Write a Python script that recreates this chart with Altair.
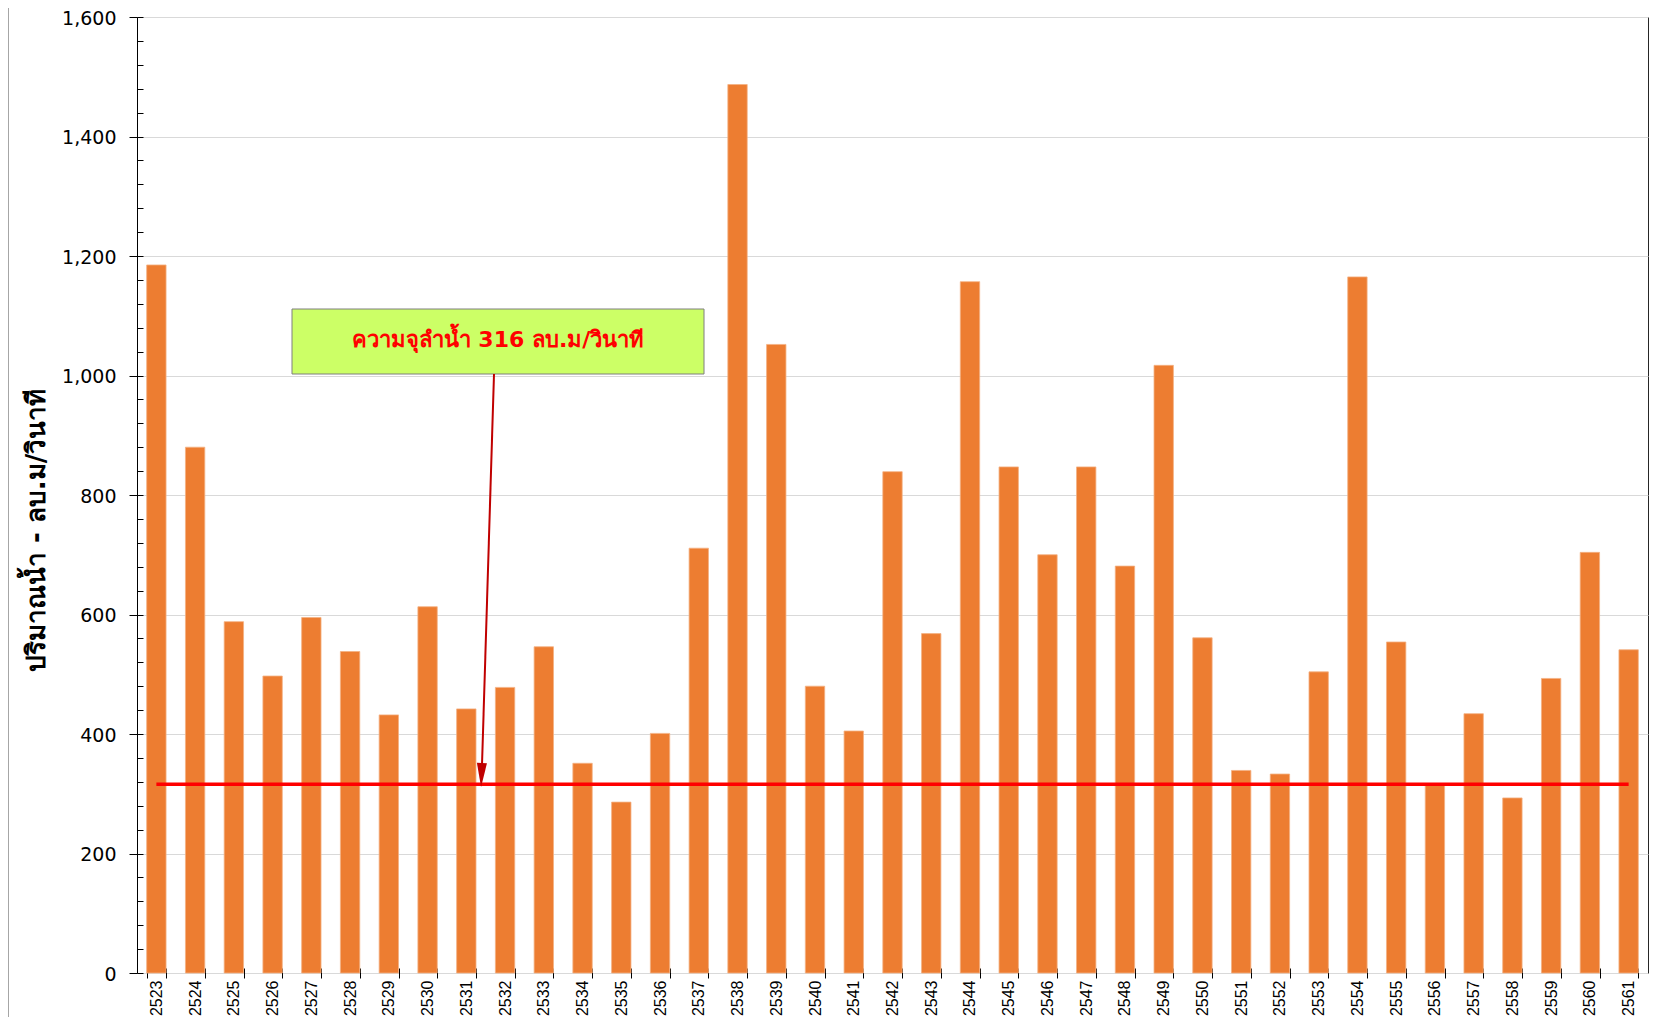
import altair as alt
import pandas as pd

years = ["2523", "2524", "2525", "2526", "2527", "2528", "2529", "2530", "2531", "2532",
         "2533", "2534", "2535", "2536", "2537", "2538", "2539", "2540", "2541", "2542",
         "2543", "2544", "2545", "2546", "2547", "2548", "2549", "2550", "2551", "2552",
         "2553", "2554", "2555", "2556", "2557", "2558", "2559", "2560", "2561"]
flows = [1185, 880, 588, 497, 595, 538, 432, 613, 442, 478,
         546, 351, 286, 401, 711, 1487, 1052, 480, 405, 839,
         568, 1157, 847, 700, 847, 681, 1017, 561, 339, 333,
         504, 1165, 554, 314, 434, 293, 493, 704, 541]
capacity = 316
y_major = [0, 200, 400, 600, 800, 1000, 1200, 1400, 1600]
y_minor = list(range(0, 1601, 40))
y_title = "ปริมาณน้ำ   -   ลบ.ม/วินาที"
note_text = "ความจุลำน้ำ 316 ลบ.ม/วินาที"

df = pd.DataFrame({"year": years, "flow": flows, "cap": [capacity] * len(years)})
one = pd.DataFrame({"k": [0]})

FONT = "DejaVu Sans"

xscale = alt.Scale(paddingInner=0.5, paddingOuter=0.25)
yscale = alt.Scale(domain=[0, 1600], nice=False)

x_enc = alt.X("year:N", sort=years, scale=xscale,
              axis=alt.Axis(title=None, labelAngle=-90, labelFontSize=16, labelColor="black",
                            labelFont="Liberation Sans", tickBand="extent", tickSize=10,
                            offset=-5, domain=False,
                            tickColor="black", labelPadding=2, grid=False))

bars = alt.Chart(df).mark_bar(color="#ED7D31", stroke="#F4B183", strokeWidth=0.8).encode(
    x=x_enc,
    y=alt.Y("flow:Q", scale=yscale,
            axis=alt.Axis(values=y_major, format=",.0f", title=y_title, titleFontSize=26,
                          titleFont=FONT, titleFontWeight="bold", titleColor="black",
                          titleX=-101, titleY=513, titleBaseline="middle", titleAngle=-90,
                          labelFontSize=19, labelFont=FONT, labelColor="black", labelOffset=1,
                          tickSize=8, tickColor="black", domainColor="black",
                          labelPadding=13, grid=True, gridColor="#d9d9d9")),
)

minor = alt.Chart(df).mark_bar(opacity=0).encode(
    x=alt.X("year:N", sort=years, scale=xscale),
    y=alt.Y("flow:Q", scale=yscale,
            axis=alt.Axis(orient="left", values=y_minor, labels=False, domain=False,
                          grid=False, tickSize=6, offset=-6, tickColor="black", title=None)),
)

cap_line = alt.Chart(df).mark_line(color="#ff0000", strokeWidth=3.5).encode(
    x=alt.X("year:N", sort=years, scale=xscale),
    y=alt.Y("cap:Q", scale=yscale, axis=None),
)

box = alt.Chart(one).mark_rect(fill="#ccff66", stroke="#7f7f7f", strokeWidth=1).encode(
    x=alt.value(155), x2=alt.value(567), y=alt.value(292), y2=alt.value(357)
)
note = alt.Chart(one).mark_text(text=note_text, color="#ff0000", fontSize=22, fontWeight="bold",
                                font=FONT, align="center", baseline="middle").encode(
    x=alt.value(361), y=alt.value(323)
)
arrow = alt.Chart(one).mark_rule(color="#c00000", strokeWidth=2).encode(
    x=alt.value(357), x2=alt.value(345), y=alt.value(357), y2=alt.value(748)
)
head = alt.Chart(one).mark_point(shape="M -0.42 -1 L 0.42 -1 L 0 1 Z", filled=True,
                                 color="#c00000", size=576, opacity=1, strokeWidth=0).encode(
    x=alt.value(344.5), y=alt.value(758), angle=alt.value(2)
)
frame = alt.Chart(one).mark_rule(color="#a6a6a6", strokeWidth=1).encode(
    x=alt.value(-128.5), y=alt.value(-17), y2=alt.value(1010)
)

chart = alt.layer(bars, minor, cap_line, box, note, arrow, head, frame).resolve_axis(
    y="independent"
).properties(
    width=1511, height=956,
    padding={"left": 129, "top": 9, "right": 1, "bottom": 44},
    autosize=alt.AutoSizeParams(type="none"),
).configure_view(stroke="#262626", strokeWidth=1)

chart.save("out.html", embed_options={"renderer": "svg", "actions": False})
